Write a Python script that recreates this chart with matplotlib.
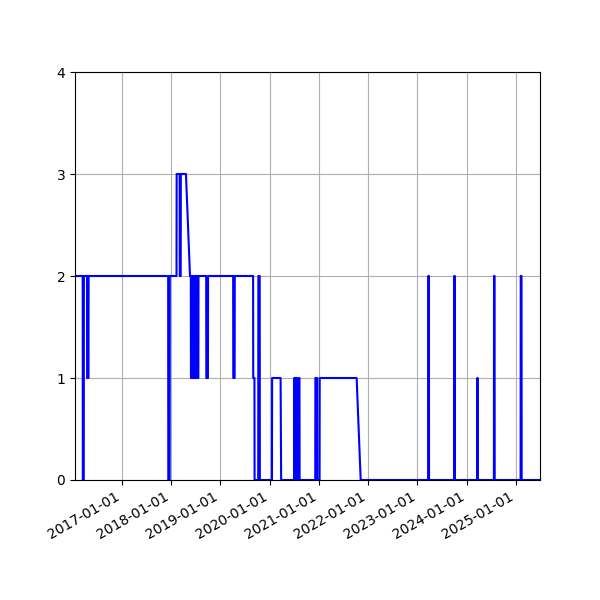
import pandas as pd
import matplotlib
matplotlib.use("Agg")
import matplotlib.pyplot as plt
import matplotlib.dates as mdates

dates = [
    "2016-01-18", "2016-03-15", "2016-03-16", "2016-03-23", "2016-03-24",
    "2016-04-16", "2016-04-17", "2016-04-27", "2016-04-28",
    "2017-12-09", "2017-12-10", "2017-12-20", "2017-12-21",
    "2018-02-09", "2018-02-10", "2018-03-04", "2018-03-05",
    "2018-03-12", "2018-03-13", "2018-04-20", "2018-05-20",
    "2018-05-26", "2018-05-27", "2018-05-30", "2018-05-31",
    "2018-06-05", "2018-06-06", "2018-06-09", "2018-06-10",
    "2018-06-16", "2018-06-17", "2018-06-21", "2018-06-22",
    "2018-06-28", "2018-06-29", "2018-07-03", "2018-07-04",
    "2018-07-12", "2018-07-13", "2018-07-21", "2018-07-22",
    "2018-09-17", "2018-09-18", "2018-09-30", "2018-10-01",
    "2019-04-05", "2019-04-06", "2019-04-16", "2019-04-17",
    "2019-08-31", "2019-09-01", "2019-09-10", "2019-09-11",
    "2019-10-08", "2019-10-09", "2019-10-19", "2019-10-20",
    "2020-01-18", "2020-01-19", "2020-03-22", "2020-03-26",
    "2020-06-30", "2020-07-01", "2020-07-05", "2020-07-06",
    "2020-07-15", "2020-07-16", "2020-07-21", "2020-07-22",
    "2020-08-03", "2020-08-04", "2020-08-09", "2020-08-10",
    "2020-12-04", "2020-12-05", "2020-12-18", "2020-12-19",
    "2021-01-05", "2021-01-06", "2021-10-07", "2021-11-06",
    "2023-03-21", "2023-03-22", "2023-03-27", "2023-03-28",
    "2023-09-30", "2023-10-01", "2023-10-05", "2023-10-06",
    "2024-03-19", "2024-03-20", "2024-03-22", "2024-03-23",
    "2024-07-21", "2024-07-22", "2024-07-26", "2024-07-27",
    "2025-02-04", "2025-02-05", "2025-02-11", "2025-02-12",
    "2025-06-28",
]
values = [
    2, 2, 0, 0, 2,
    2, 1, 1, 2,
    2, 0, 0, 2,
    2, 3, 3, 2,
    2, 3, 3, 2,
    2, 1, 1, 2,
    2, 1, 1, 2,
    2, 1, 1, 2,
    2, 1, 1, 2,
    2, 1, 1, 2,
    2, 1, 1, 2,
    2, 1, 1, 2,
    2, 1, 1, 0,
    0, 2, 2, 0,
    0, 1, 1, 0,
    0, 1, 1, 0,
    0, 1, 1, 0,
    0, 1, 1, 0,
    0, 1, 1, 0,
    0, 1, 1, 0,
    0, 2, 2, 0,
    0, 2, 2, 0,
    0, 1, 1, 0,
    0, 2, 2, 0,
    0, 2, 2, 0,
    0,
]

x = pd.to_datetime(dates)

fig, ax = plt.subplots(figsize=(6, 6), dpi=100)
ax.plot(x, values, color='b')

ax.set_xlim(x[0], x[-1])
ax.set_ylim(0, 4)
ax.set_yticks(range(5))
ax.xaxis.set_major_locator(mdates.YearLocator())
ax.xaxis.set_major_formatter(mdates.DateFormatter('%Y-%m-%d'))
ax.grid(True)
fig.autofmt_xdate()

fig.savefig('out.png')
